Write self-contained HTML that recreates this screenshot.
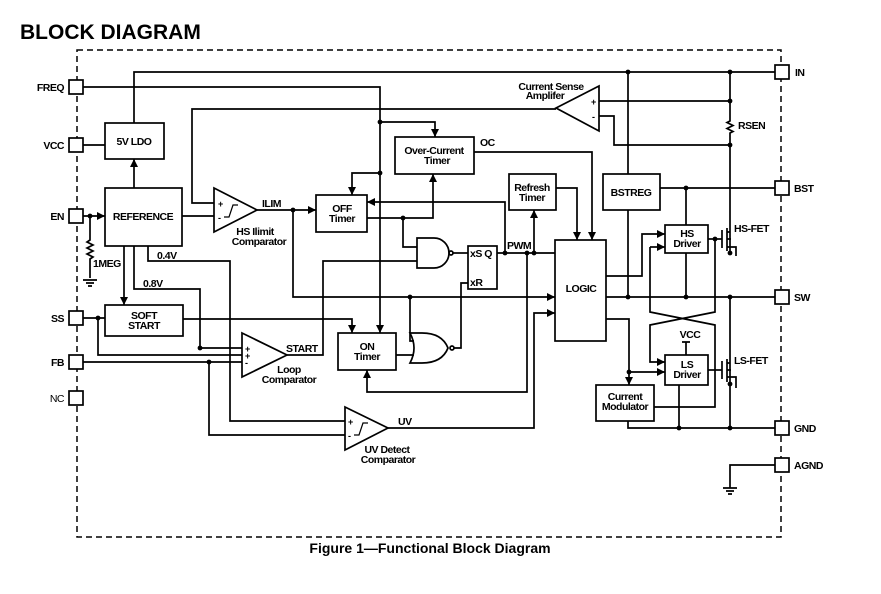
<!DOCTYPE html>
<html><head><meta charset="utf-8"><style>
html,body{margin:0;padding:0;background:#fff;}
svg{display:block;}
text{font-family:"Liberation Sans",Arial,sans-serif;font-weight:bold;font-size:10.5px;fill:#000;letter-spacing:-0.5px;}
</style></head><body>
<svg width="881" height="594" viewBox="0 0 881 594" xmlns="http://www.w3.org/2000/svg">
<defs>
<marker id="a" viewBox="0 0 10 10" refX="10" refY="5" markerWidth="8" markerHeight="8" orient="auto" markerUnits="userSpaceOnUse"><path d="M0,0L10,5L0,10z" fill="#000"/></marker>
</defs>
<text x="20" y="39" style="font-size:21px;letter-spacing:0">BLOCK DIAGRAM</text>
<rect x="77" y="50" width="704" height="487" fill="none" stroke="#000" stroke-width="1.5" stroke-dasharray="6,4"/>
<g fill="none" stroke="#000" stroke-width="1.7">
<rect x="69" y="80" width="14" height="14" fill="#fff"/>
<rect x="69" y="138" width="14" height="14" fill="#fff"/>
<rect x="69" y="209" width="14" height="14" fill="#fff"/>
<rect x="69" y="311" width="14" height="14" fill="#fff"/>
<rect x="69" y="355" width="14" height="14" fill="#fff"/>
<rect x="69" y="391" width="14" height="14" fill="#fff"/>
<rect x="775" y="65" width="14" height="14" fill="#fff"/>
<rect x="775" y="181" width="14" height="14" fill="#fff"/>
<rect x="775" y="290" width="14" height="14" fill="#fff"/>
<rect x="775" y="421" width="14" height="14" fill="#fff"/>
<rect x="775" y="458" width="14" height="14" fill="#fff"/>
<rect x="105" y="123" width="59" height="36"/>
<rect x="105" y="188" width="77" height="58"/>
<rect x="105" y="305" width="78" height="31"/>
<rect x="316" y="195" width="51" height="37"/>
<rect x="395" y="137" width="79" height="37"/>
<rect x="338" y="333" width="58" height="37"/>
<rect x="468" y="246" width="29" height="43"/>
<rect x="509" y="174" width="47" height="36"/>
<rect x="555" y="240" width="51" height="101"/>
<rect x="603" y="174" width="57" height="36"/>
<rect x="665" y="225" width="43" height="28"/>
<rect x="665" y="355" width="43" height="30"/>
<rect x="596" y="385" width="58" height="36"/>
<path d="M214,188L257,210L214,232Z"/>
<path d="M224,217h5l4,-12h5M229,217l4,-12" stroke-width="1.2"/>
<path d="M242,333L287,355L242,377Z"/>
<path d="M345,407L388,428L345,450Z"/>
<path d="M354,435h5l4,-12h5M359,435l4,-12" stroke-width="1.2"/>
<path d="M599,86L556,108L599,131Z"/>
<path d="M417,238h17a15,15 0 0 1 0,30h-17z"/>
<circle cx="451" cy="253" r="2"/>
<path d="M410,333h12q20,0 26,15q-6,15 -26,15h-12q8,-15 0,-30z"/>
<circle cx="452" cy="348" r="2"/>
<path d="M134,123V72H775"/>
<path d="M83,87H380V333" marker-end="url(#a)"/>
<path d="M83,145H105"/>
<path d="M134,188V159" marker-end="url(#a)"/>
<path d="M83,216H105" marker-end="url(#a)"/>
<path d="M90,216V240l-3,2l6,3l-6,3l6,3l-6,3l6,3l-3,2V278"/>
<path d="M83,280h14M86,283h8M88,286h4"/>
<path d="M182,216H214"/>
<path d="M556,109H192V203H214"/>
<path d="M380,122H435V137" marker-end="url(#a)"/>
<path d="M474,152H592V240" marker-end="url(#a)"/>
<path d="M380,173H352V195" marker-end="url(#a)"/>
<path d="M257,210H316" marker-end="url(#a)"/>
<path d="M293,210V297H555" marker-end="url(#a)"/>
<path d="M367,218H433V174" marker-end="url(#a)"/>
<path d="M403,218V247H417"/>
<path d="M505,253V202H367" marker-end="url(#a)"/>
<path d="M287,355H323V261H417"/>
<path d="M453,253H468"/>
<path d="M497,253H555"/>
<path d="M534,253V210" marker-end="url(#a)"/>
<path d="M527,253V392H367V370" marker-end="url(#a)"/>
<path d="M556,188H577V240" marker-end="url(#a)"/>
<path d="M454,348H461V283H468"/>
<path d="M396,355H414"/>
<path d="M410,297V341H414"/>
<path d="M124,246V305" marker-end="url(#a)"/>
<path d="M134,246V289H200V348H242"/>
<path d="M148,246V261H230V421H345"/>
<path d="M83,318H105"/>
<path d="M183,319H352V333" marker-end="url(#a)"/>
<path d="M98,318V355H242"/>
<path d="M83,362H242"/>
<path d="M209,362V435H345"/>
<path d="M388,428H534V313H555" marker-end="url(#a)"/>
<path d="M628,72V174"/>
<path d="M730,72V121l-3,1.5l6,3l-6,3l6,3l-3,1.5V253"/>
<path d="M599,101H730"/>
<path d="M599,116H614V145H730"/>
<path d="M660,188H775"/>
<path d="M686,188V225"/>
<path d="M628,210V297"/>
<path d="M606,297H775"/>
<path d="M686,253V297"/>
<path d="M606,276H642V234H665" marker-end="url(#a)"/>
<path d="M650,247H665" marker-end="url(#a)"/>
<path d="M650,247V312L715,325V407H654"/>
<path d="M715,239V312L650,325V362H665" marker-end="url(#a)"/>
<path d="M708,239H722"/>
<path d="M722,230V248M727,228V251M727,232H730M727,247H736V256M727,239h4" />
<path d="M730,297V384"/>
<path d="M708,370H722"/>
<path d="M722,361V379M727,359V382M727,363H730M727,377H736V388M727,370h4"/>
<path d="M730,384V428"/>
<path d="M686,355V342M682,342h8"/>
<path d="M606,319H629V385" marker-end="url(#a)"/>
<path d="M629,372H665" marker-end="url(#a)"/>
<path d="M628,421V428H775"/>
<path d="M679,385V428"/>
<path d="M775,465H730V488M723,488h14M726,491h8M728,494h4"/>
</g>
<g fill="#000">
<circle cx="90" cy="216" r="2.4"/><circle cx="380" cy="122" r="2.4"/><circle cx="380" cy="173" r="2.4"/>
<circle cx="293" cy="210" r="2.4"/><circle cx="403" cy="218" r="2.4"/><circle cx="505" cy="253" r="2.4"/>
<circle cx="527" cy="253" r="2.4"/><circle cx="534" cy="253" r="2.4"/><circle cx="410" cy="297" r="2.4"/>
<circle cx="98" cy="318" r="2.4"/><circle cx="200" cy="348" r="2.4"/><circle cx="209" cy="362" r="2.4"/>
<circle cx="628" cy="72" r="2.4"/><circle cx="730" cy="72" r="2.4"/><circle cx="730" cy="101" r="2.4"/>
<circle cx="730" cy="145" r="2.4"/><circle cx="686" cy="188" r="2.4"/><circle cx="628" cy="297" r="2.4"/>
<circle cx="686" cy="297" r="2.4"/><circle cx="730" cy="297" r="2.4"/><circle cx="715" cy="239" r="2.4"/>
<circle cx="730" cy="253" r="2.4"/><circle cx="730" cy="384" r="2.4"/><circle cx="629" cy="372" r="2.4"/>
<circle cx="679" cy="428" r="2.4"/><circle cx="730" cy="428" r="2.4"/>
</g>
<g text-anchor="end">
<text x="64" y="91">FREQ</text><text x="64" y="149">VCC</text><text x="64" y="220">EN</text>
<text x="64" y="322">SS</text><text x="64" y="366">FB</text>
<text x="64" y="402" style="font-weight:normal">NC</text>
</g>
<text x="795" y="76">IN</text><text x="794" y="192">BST</text><text x="794" y="301">SW</text>
<text x="794" y="432">GND</text><text x="794" y="469">AGND</text>
<g text-anchor="middle">
<text x="134" y="145">5V LDO</text>
<text x="143" y="220">REFERENCE</text>
<text x="144" y="319">SOFT</text><text x="144" y="329">START</text>
<text x="342" y="212">OFF</text><text x="342" y="222">Timer</text>
<text x="434" y="154">Over-Current</text><text x="437" y="164">Timer</text>
<text x="367" y="350">ON</text><text x="367" y="360">Timer</text>
<text x="532" y="191">Refresh</text><text x="532" y="201">Timer</text>
<text x="581" y="292">LOGIC</text>
<text x="631" y="196">BSTREG</text>
<text x="687" y="237">HS</text><text x="687" y="247">Driver</text>
<text x="687" y="368">LS</text><text x="687" y="378">Driver</text>
<text x="625" y="400">Current</text><text x="625" y="410">Modulator</text>
<text x="551" y="90">Current Sense</text><text x="545" y="99">Amplifer</text>
<text x="255" y="235">HS Ilimit</text><text x="259" y="245">Comparator</text>
<text x="289" y="373">Loop</text><text x="289" y="383">Comparator</text>
<text x="387" y="453">UV Detect</text><text x="388" y="463">Comparator</text>
<text x="690" y="338">VCC</text>
</g>
<text x="262" y="207">ILIM</text><text x="480" y="146">OC</text><text x="507" y="249">PWM</text>
<text x="286" y="352">START</text><text x="398" y="425">UV</text>
<text x="470" y="257">xS Q</text><text x="470" y="286">xR</text>
<text x="157" y="259">0.4V</text><text x="143" y="287">0.8V</text><text x="93" y="267">1MEG</text>
<text x="738" y="129">RSEN</text><text x="734" y="232">HS-FET</text><text x="734" y="364">LS-FET</text>
<text x="218" y="207" style="font-size:9px">+</text><text x="218" y="221" style="font-size:9px">-</text>
<text x="245" y="352" style="font-size:9px">+</text><text x="245" y="359" style="font-size:9px">+</text><text x="245" y="366" style="font-size:9px">-</text>
<text x="348" y="425" style="font-size:9px">+</text><text x="348" y="439" style="font-size:9px">-</text>
<text x="591" y="105" style="font-size:9px">+</text><text x="592" y="120" style="font-size:9px">-</text>
<text x="430" y="553" text-anchor="middle" style="font-size:14px;letter-spacing:0">Figure 1—Functional Block Diagram</text>
</svg>
</body></html>
